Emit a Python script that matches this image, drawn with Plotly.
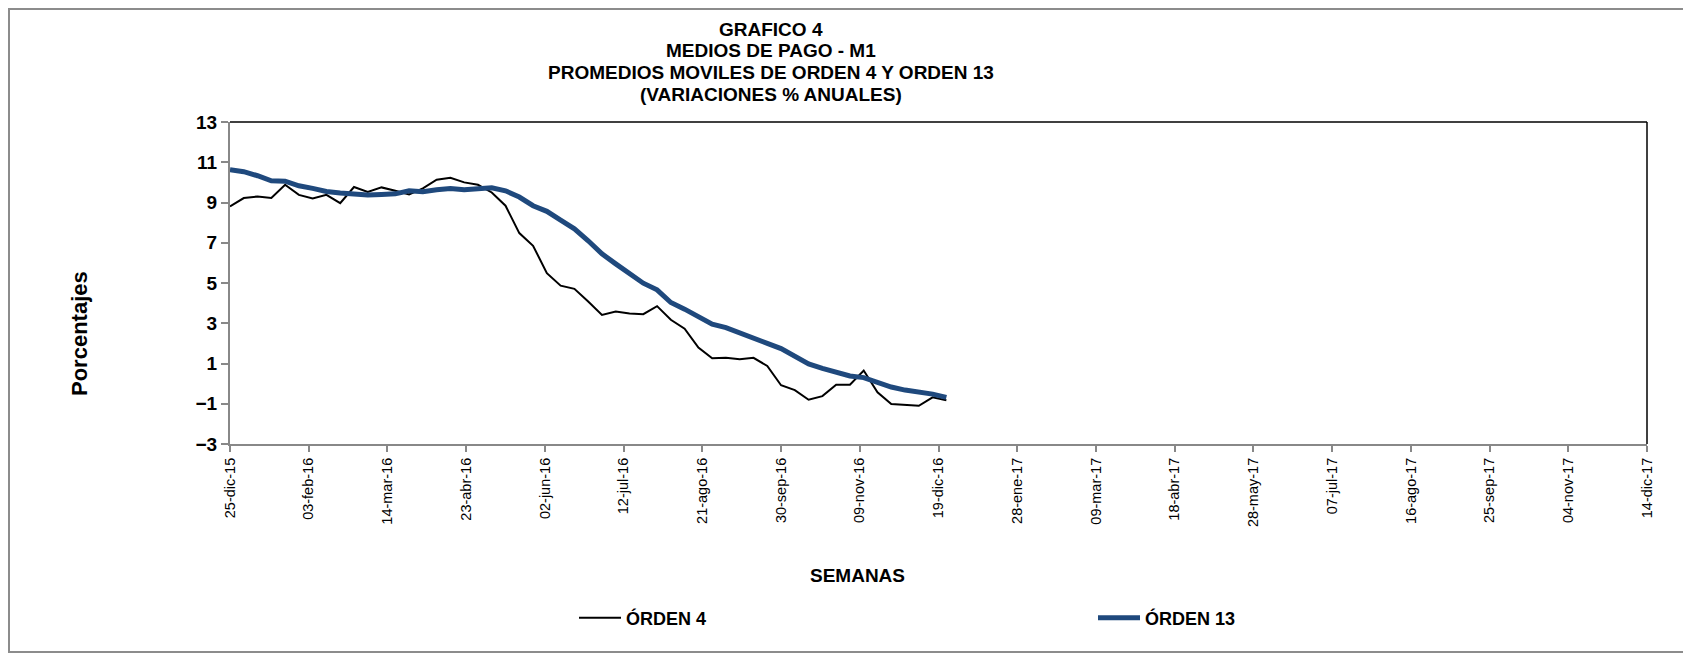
import pandas as pd
import plotly.graph_objects as go

# Weekly observations starting 25-dic-15
fechas = pd.date_range("2015-12-25", periods=53, freq="7D")

orden4 = [8.80, 9.22, 9.30, 9.22, 9.88, 9.38, 9.20, 9.38, 8.97, 9.77,
          9.53, 9.75, 9.58, 9.40, 9.70, 10.13, 10.23, 10.00, 9.88, 9.50,
          8.84, 7.48, 6.85, 5.49, 4.87, 4.71, 4.08, 3.41, 3.58, 3.48,
          3.45, 3.85, 3.17, 2.73, 1.79, 1.26, 1.29, 1.21, 1.28, 0.88,
          -0.08, -0.32, -0.80, -0.62, -0.05, -0.05, 0.65, -0.43, -1.01, -1.05,
          -1.10, -0.68, -0.83]

orden13 = [10.63, 10.53, 10.33, 10.08, 10.06, 9.83, 9.70, 9.55, 9.47, 9.40,
           9.37, 9.40, 9.43, 9.58, 9.53, 9.63, 9.70, 9.63, 9.68, 9.73,
           9.58, 9.27, 8.84, 8.56, 8.12, 7.69, 7.10, 6.45, 5.95, 5.49,
           4.99, 4.66, 4.03, 3.70, 3.33, 2.95, 2.78, 2.54, 2.25, 2.00,
           1.74, 1.39, 0.98, 0.76, 0.55, 0.38, 0.30, 0.05, -0.17, -0.32,
           -0.40, -0.52, -0.68]

tick_fechas = ["2015-12-25", "2016-02-03", "2016-03-14", "2016-04-23", "2016-06-02",
               "2016-07-12", "2016-08-21", "2016-09-30", "2016-11-09", "2016-12-19",
               "2017-01-28", "2017-03-09", "2017-04-18", "2017-05-28", "2017-07-07",
               "2017-08-16", "2017-09-25", "2017-11-04", "2017-12-14"]
tick_labels = ["25-dic-15", "03-feb-16", "14-mar-16", "23-abr-16", "02-jun-16",
               "12-jul-16", "21-ago-16", "30-sep-16", "09-nov-16", "19-dic-16",
               "28-ene-17", "09-mar-17", "18-abr-17", "28-may-17", "07-jul-17",
               "16-ago-17", "25-sep-17", "04-nov-17", "14-dic-17"]
y_ticks = [-3, -1, 1, 3, 5, 7, 9, 11, 13]
titulo = ["GRAFICO 4", "MEDIOS DE PAGO - M1",
          "PROMEDIOS MOVILES DE ORDEN 4 Y ORDEN 13", "(VARIACIONES % ANUALES)"]

FONT = "Liberation Sans, Arial, sans-serif"
OFF = 8  # page offset of the figure (body margin)
W, H = 1691, 659
L, T = 230 - OFF, 122 - OFF
pw, ph = 1417, 322
R, B = W - L - pw, H - T - ph


def px_x(p):
    """page pixel x -> paper fraction"""
    return (p - OFF - L) / pw


def px_y(p):
    """page pixel y -> paper fraction"""
    return (T + ph - (p - OFF)) / ph


fig = go.Figure()
fig.add_trace(go.Scatter(x=fechas, y=orden4, mode="lines", name="ÓRDEN 4",
                         line=dict(color="#000000", width=2)))
fig.add_trace(go.Scatter(x=fechas, y=orden13, mode="lines", name="ÓRDEN 13",
                         line=dict(color="#1F497D", width=5)))

fig.update_layout(
    width=W, height=H,
    margin=dict(l=L, r=R, t=T, b=B, autoexpand=False),
    paper_bgcolor="white", plot_bgcolor="white",
    font=dict(family=FONT, color="black"),
    showlegend=True,
    legend=dict(
        orientation="h", x=px_x(574), xanchor="left", y=px_y(618), yanchor="middle",
        yref="paper", xref="paper",
        itemwidth=42,
        entrywidth=462, entrywidthmode="pixels",
        font=dict(family=FONT, size=18, color="black", weight="bold"),
        bgcolor="rgba(0,0,0,0)",
    ),
    xaxis=dict(
        type="date", automargin=False,
        range=["2015-12-25", "2017-12-14"],
        tickmode="array", tickvals=tick_fechas, ticktext=tick_labels,
        tickangle=-90, tickfont=dict(family=FONT, size=14.5, color="black"),
        showgrid=False, zeroline=False,
        showline=True, linecolor="#888888", linewidth=2,
        ticks="outside", ticklen=6, tickcolor="#888888", tickwidth=2,
    ),
    yaxis=dict(
        range=[-3, 13], tickmode="array", tickvals=y_ticks, automargin=False,
        tickfont=dict(family=FONT, size=19, color="black", weight="bold"),
        showgrid=False, zeroline=False,
        showline=True, linecolor="#888888", linewidth=2,
        ticks="outside", ticklen=7, tickcolor="#888888", tickwidth=2,
    ),
)

# plot frame top / right
fig.add_shape(type="line", xref="paper", yref="paper", x0=0, x1=1, y0=1, y1=1,
              line=dict(color="black", width=1.5))
fig.add_shape(type="line", xref="paper", yref="paper", x0=1, x1=1, y0=0, y1=1,
              line=dict(color="black", width=1.5))
# outer chart border
fig.add_shape(type="rect", xref="paper", yref="paper",
              x0=px_x(OFF + 1), x1=px_x(1688), y0=px_y(652), y1=px_y(OFF + 1),
              line=dict(color="#8c8c8c", width=2), fillcolor="rgba(0,0,0,0)")

# title lines
for linea, yc in zip(titulo, [30, 51, 72, 94]):
    fig.add_annotation(text="<b>" + linea + "</b>", xref="paper", yref="paper",
                       x=px_x(771), y=px_y(yc), xanchor="center", yanchor="middle",
                       showarrow=False, font=dict(family=FONT, size=19, color="black"))

fig.add_annotation(text="<b>SEMANAS</b>", xref="paper", yref="paper",
                   x=px_x(857), y=px_y(575), xanchor="center", yanchor="middle",
                   showarrow=False, font=dict(family=FONT, size=19, color="black"))
fig.add_annotation(text="<b>Porcentajes</b>", xref="paper", yref="paper",
                   x=px_x(79), y=px_y(334), xanchor="center", yanchor="middle",
                   showarrow=False, textangle=-90,
                   font=dict(family=FONT, size=22, color="black"))

fig.write_html("out.html")
